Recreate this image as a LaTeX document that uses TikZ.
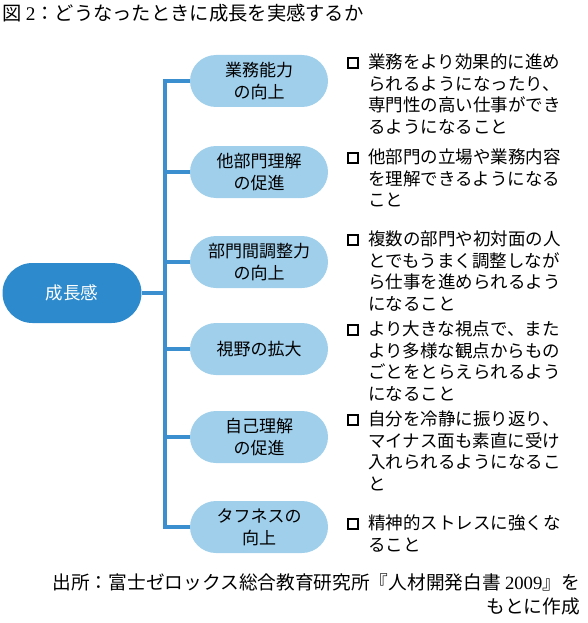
\documentclass[tikz,border=0pt]{standalone}
\usepackage{fontspec}
\setmainfont{Liberation Serif}
\newfontfamily\cjk{Noto Sans CJK JP}
\usetikzlibrary{positioning}
\definecolor{rootblue}{HTML}{2D8BCD}
\definecolor{childblue}{HTML}{A0CFEC}
\definecolor{trunkblue}{HTML}{3B8FCE}
\tikzset{
  rootpill/.style={fill=rootblue,text=white,minimum width=139pt,minimum height=60pt,
    rounded corners=30pt,font=\cjk\fontsize{17.5}{21}\selectfont},
  childpill/.style={fill=childblue,minimum width=138pt,minimum height=52pt,
    rounded corners=26pt,align=center,font=\cjk\fontsize{17}{22}\selectfont},
  branch/.style={trunkblue,line width=4pt},
  bul/.style={draw,line width=2.4pt,minimum size=10pt,inner sep=0pt},
  item/.style={anchor=north west,align=left,inner sep=0pt,
    font=\cjk\fontsize{17.5}{21.5}\selectfont},
}
\begin{document}
\begin{tikzpicture}[x=1pt,y=-1pt]
\useasboundingbox (0,0) rectangle (587,623);
\node[anchor=west,inner sep=0pt,font=\cjk\fontsize{19.3}{22}\selectfont] (title) at (2,13)
  {図 {\rmfamily 2}：どうなったときに成長を実感するか};
% tree
\node[rootpill] (root) at (72,293) {成長感};
\node[childpill] (c1) at (259,81) {業務能力\\の向上};
\node[childpill] (c2) at (259,172) {他部門理解\\の促進};
\node[childpill] (c3) at (259,262) {部門間調整力\\の向上};
\node[childpill] (c4) at (259,349) {視野の拡大};
\node[childpill] (c5) at (259,437) {自己理解\\の促進};
\node[childpill] (c6) at (259,527) {タフネスの\\向上};
\coordinate (trunk) at (165,293);
\draw[branch] (c1.west) -- (c1.west -| trunk) |- (c6.west);
\foreach \c in {c2,c3,c4,c5}
  \draw[branch] (\c.west) -- (\c.west -| trunk);
\draw[branch] (root.east) -- (trunk);
% bullets
\node[bul] (b1) at (353,63) {};
\node[item] (t1) at (368,54) {業務をより効果的に進め\\られるようになったり、\\専門性の高い仕事ができ\\るようになること};
\node[bul] (b2) at (353,158) {};
\node[item] (t2) at (368,149) {他部門の立場や業務内容\\を理解できるようになる\\こと};
\node[bul] (b3) at (353,240) {};
\node[item] (t3) at (368,231) {複数の部門や初対面の人\\とでもうまく調整しなが\\ら仕事を進められるよう\\になること};
\node[bul] (b4) at (353,330) {};
\node[item] (t4) at (368,321) {より大きな視点で、また\\より多様な観点からもの\\ごとをとらえられるよう\\になること};
\node[bul] (b5) at (353,420) {};
\node[item] (t5) at (368,411) {自分を冷静に振り返り、\\マイナス面も素直に受け\\入れられるようになるこ\\と};
\node[bul] (b6) at (353,524) {};
\node[item] (t6) at (368,515) {精神的ストレスに強くな\\ること};
% source
\node[anchor=north east,align=right,inner sep=0pt,font=\cjk\fontsize{18.7}{24}\selectfont] (src) at (580,573)
  {出所：富士ゼロックス総合教育研究所『人材開発白書 {\rmfamily 2009}』を\\もとに作成};
\end{tikzpicture}
\end{document}
